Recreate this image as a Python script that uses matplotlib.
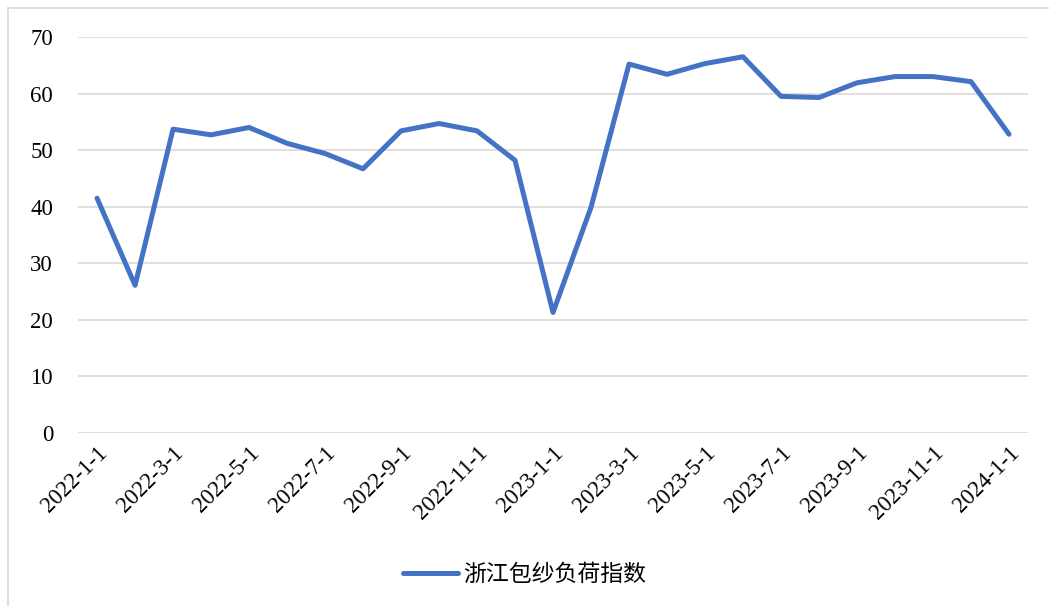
import matplotlib.pyplot as plt
from matplotlib.lines import Line2D

plt.rcParams['font.family'] = ['Liberation Serif', 'Noto Sans CJK SC']

# Monthly load index, 2022-1 .. 2024-1
dates = ['2022-1-1', '2022-2-1', '2022-3-1', '2022-4-1', '2022-5-1', '2022-6-1',
         '2022-7-1', '2022-8-1', '2022-9-1', '2022-10-1', '2022-11-1', '2022-12-1',
         '2023-1-1', '2023-2-1', '2023-3-1', '2023-4-1', '2023-5-1', '2023-6-1',
         '2023-7-1', '2023-8-1', '2023-9-1', '2023-10-1', '2023-11-1', '2023-12-1',
         '2024-1-1']
values = [41.5, 26.1, 53.7, 52.7, 54.0, 51.2, 49.4, 46.7, 53.4, 54.7, 53.4, 48.2,
          21.3, 39.9, 65.2, 63.4, 65.3, 66.5, 59.5, 59.3, 61.9, 63.0, 63.0, 62.1,
          52.8]
series_name = '浙江包纱负荷指数'

fig = plt.figure(figsize=(10.49, 6.06), dpi=100)
ax = fig.add_axes([0.0744, 0.2855, 0.9056, 0.6535])

x = list(range(len(dates)))
ax.plot(x, values, color='#4472C4', linewidth=3.6, label=series_name,
        solid_capstyle='round', solid_joinstyle='round')

ax.set_xlim(-0.5, len(dates) - 0.5)
ax.set_ylim(0, 70)
ax.set_yticks(range(0, 71, 10))
ax.set_xticks(x[::2])
ax.set_xticklabels(dates[::2], rotation=45, ha='right', va='top',
                   rotation_mode='anchor', fontsize=16.5)
ax.tick_params(axis='y', labelsize=16.5, length=0, pad=18)
ax.tick_params(axis='x', length=0, pad=7)

ax.grid(True, axis='y', color='#D9D9D9', linewidth=1.2)
ax.set_axisbelow(True)
for s in ax.spines.values():
    s.set_visible(False)

fig.legend(loc='center', bbox_to_anchor=(0.5, 0.051), frameon=False,
           fontsize=16.5, handlelength=2.4, handletextpad=0.2)

# chart area border (only left and top edges visible in the crop)
bx, by = 7.5 / 1049, 1 - 8 / 606
fig.add_artist(Line2D([bx, 1], [by, by], transform=fig.transFigure,
                      color='#D9D9D9', linewidth=1.2))
fig.add_artist(Line2D([bx, bx], [0, by], transform=fig.transFigure,
                      color='#D9D9D9', linewidth=1.2))

fig.savefig('out.png', dpi=100)
